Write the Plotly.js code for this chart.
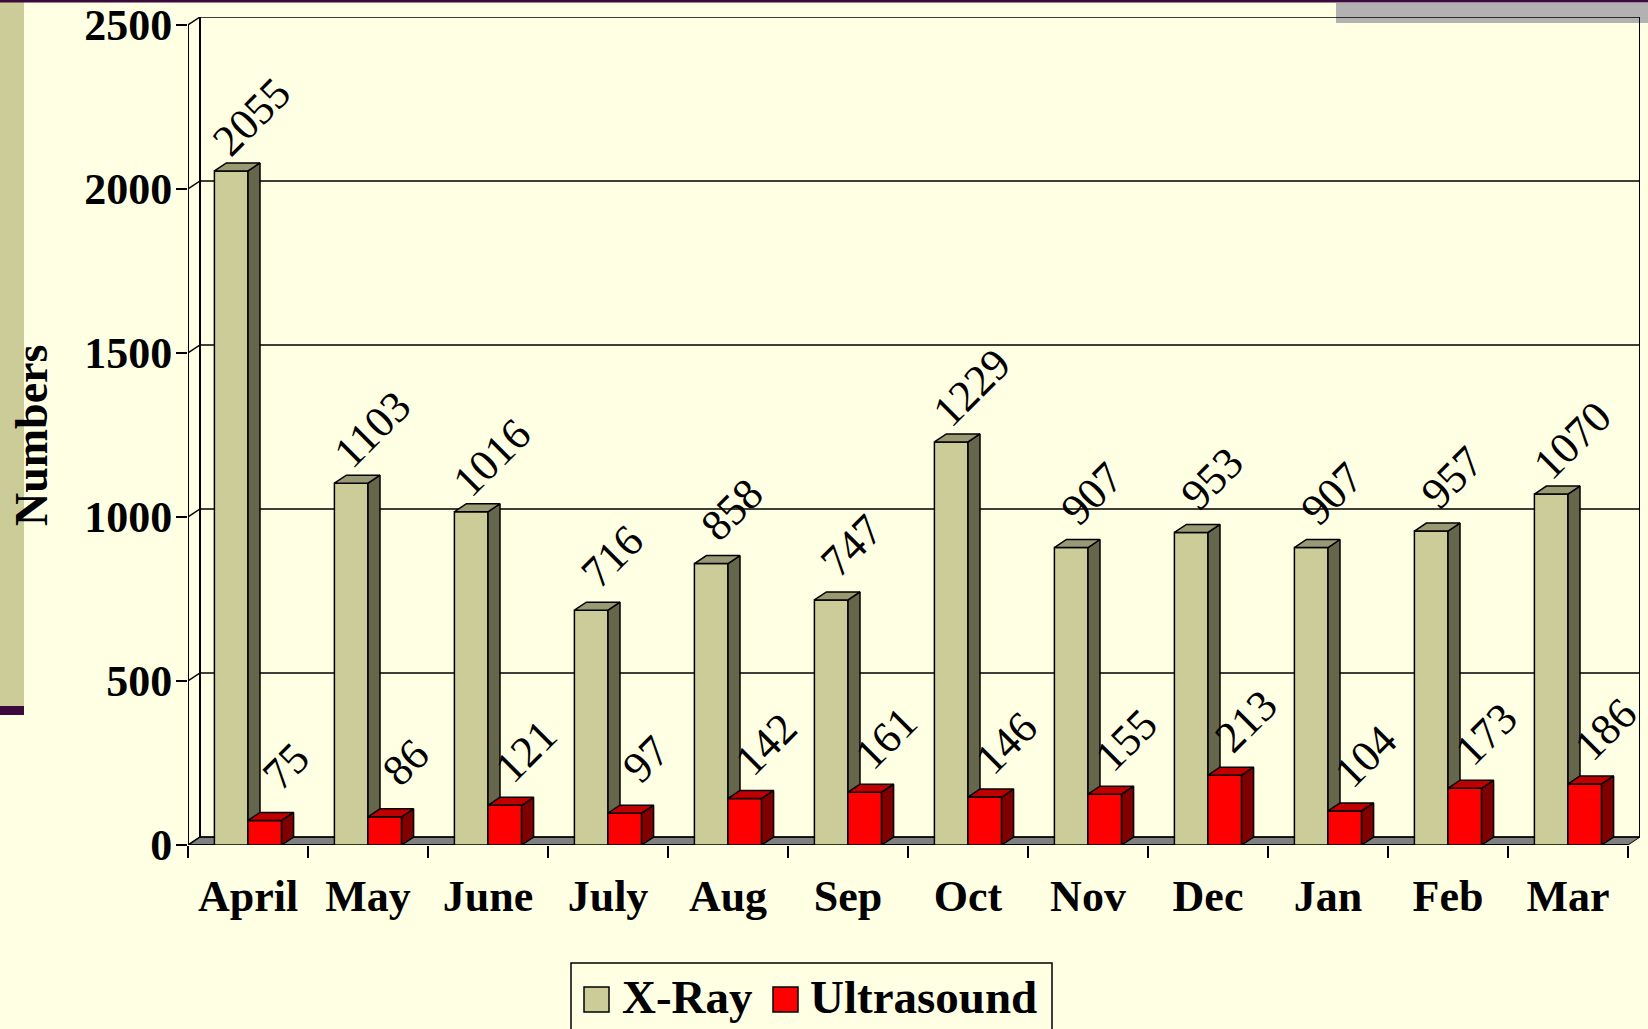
<!DOCTYPE html>
<html><head><meta charset="utf-8">
<script src="https://cdn.plot.ly/plotly-3.0.1.min.js"></script>
<style>html,body{margin:0;padding:0;background:#FFFFE4;}#chart{width:1648px;height:1029px;}</style>
</head><body><div id="chart"></div>
<script>
// ---- data ----
const months = ['April','May','June','July','Aug','Sep','Oct','Nov','Dec','Jan','Feb','Mar'];
const xray = [2055,1103,1016,716,858,747,1229,907,953,907,957,1070];
const ultrasound = [75,86,121,97,142,161,146,155,213,104,173,186];
const seriesNames = ['X-Ray','Ultrasound'];
const yTicks = [0,500,1000,1500,2000,2500];
const yTitle = 'Numbers';

// ---- geometry / style ----
const W=1648, H=1029, L=188, R=8, T=17, B=184;
const PW=W-L-R, PH=H-T-B;
const DX=0.1, DY=24.4;           // 3D depth in axis units
const BW=0.28;                    // bar width
const XMIN=-0.5, XMAX=months.length-0.5+DX, YTOP=yTicks[yTicks.length-1], YMAX=YTOP+DY;
const px = X => (X-L)/PW;
const py = Y => (H-B-Y)/PH;
const FONT='Liberation Serif';
const BG='#FFFFE4';

const series = [
  {vals: xray, off: -BW, front:'#CCCC99', side:'#66664C', top:'#999973'},
  {vals: ultrasound, off: 0, front:'#FF0000', side:'#800000', top:'#C00000'}
];

const traces = [];
const lineTrace = (x,y,w) => ({type:'scatter',mode:'lines',x,y,line:{color:'#000',width:w},hoverinfo:'skip',showlegend:false,cliponaxis:false});

// floor
traces.push({type:'scatter',mode:'lines',x:[XMIN,XMAX-DX,XMAX,XMIN+DX,XMIN],y:[0,0,DY,DY,0],fill:'toself',fillcolor:'#808080',line:{color:'#000',width:1},hoverinfo:'skip',showlegend:false,cliponaxis:false});
// back wall gridlines (with left-wall diagonal)
{
  const gx=[], gy=[];
  yTicks.forEach(g=>{ gx.push(XMIN,XMIN+DX,XMAX,null); gy.push(g,g+DY,g+DY,null); });
  traces.push(lineTrace(gx,gy,1.5));
}
// walls edges
traces.push(lineTrace([XMIN,XMIN],[0,YTOP],2));
traces.push(lineTrace([XMIN+DX,XMIN+DX],[DY,YMAX],2));
traces.push(lineTrace([XMAX,XMAX],[DY,YMAX],2));
traces.push(lineTrace([XMIN,XMAX-DX],[0,0],2));

// 3D bars
series.forEach((s,si)=>{
  const fx=[],fy=[],sx=[],sy=[],tx=[],ty=[];
  s.vals.forEach((v,i)=>{
    const x0=i+s.off, x1=x0+BW;
    fx.push(x0,x1,x1,x0,x0,null); fy.push(0,0,v,v,0,null);
    sx.push(x1,x1+DX,x1+DX,x1,x1,null); sy.push(0,DY,v+DY,v,0,null);
    tx.push(x0,x1,x1+DX,x0+DX,x0,null); ty.push(v,v,v+DY,v+DY,v,null);
  });
  const mk=(x,y,c)=>({type:'scatter',mode:'lines',x,y,fill:'toself',fillcolor:c,line:{color:'#000',width:1.5},hoverinfo:'skip',showlegend:false,cliponaxis:false,name:seriesNames[si]});
  traces.push(mk(fx,fy,s.front), mk(sx,sy,s.side), mk(tx,ty,s.top));
});

// data labels
const annotations=[];
series.forEach(s=>{
  s.vals.forEach((v,i)=>{
    annotations.push({x:i+s.off+BW/2, y:v+DY, xref:'x', yref:'y', text:String(v), showarrow:false,
      textangle:-45, xanchor:'center', yanchor:'middle', xshift:21, yshift:46,
      font:{family:FONT,size:44,color:'#000'}});
  });
});
// y title
annotations.push({xref:'paper',yref:'paper',x:px(31),y:py(436),text:yTitle,textangle:-90,showarrow:false,
  xanchor:'center',yanchor:'middle',font:{family:FONT,size:46,weight:'bold',color:'#000'}});

// legend (drawn)
const shapes=[
  {type:'rect',xref:'paper',yref:'paper',x0:px(0),x1:px(24),y0:py(0),y1:py(706),fillcolor:'#CCCC99',line:{width:0},layer:'below'},
  {type:'rect',xref:'paper',yref:'paper',x0:px(0),x1:px(24),y0:py(706),y1:py(715),fillcolor:'#3C0A3C',line:{width:0},layer:'below'},
  {type:'rect',xref:'paper',yref:'paper',x0:px(0),x1:px(W),y0:py(0),y1:py(2.5),fillcolor:'#3C0A3C',line:{width:0},layer:'below'},
  {type:'rect',xref:'paper',yref:'paper',x0:px(1336),x1:px(W),y0:py(3),y1:py(23),fillcolor:'#B2B2B2',line:{width:0},layer:'below'},
  {type:'rect',xref:'paper',yref:'paper',x0:px(571),x1:px(1052),y0:py(963),y1:py(1045),fillcolor:'rgba(0,0,0,0)',line:{color:'#000',width:1.5}},
];
const legendItems=[{sx:584,tx:620},{sx:773,tx:808}];
legendItems.forEach((it,k)=>{
  shapes.push({type:'rect',xref:'paper',yref:'paper',x0:px(it.sx),x1:px(it.sx+25),y0:py(987),y1:py(1012),fillcolor:series[k].front,line:{color:'#000',width:1.5}});
  annotations.push({xref:'paper',yref:'paper',x:px(it.tx),y:py(997),text:seriesNames[k],showarrow:false,xanchor:'left',yanchor:'middle',
    font:{family:FONT,size:47,weight:'bold',color:'#000'}});
});

const tickFont={family:FONT,size:44,weight:'bold',color:'#000'};
const layout={
  width:W,height:H,margin:{l:L,r:R,t:T,b:B,pad:0},
  paper_bgcolor:BG, plot_bgcolor:'rgba(0,0,0,0)', showlegend:false,
  xaxis:{range:[XMIN,XMAX],tickvals:months.map((m,i)=>i),ticktext:months,ticks:'outside',ticklen:12,tickcolor:'rgba(0,0,0,0)',
    minor:{ticks:'outside',tick0:-0.5,dtick:1,ticklen:12,tickwidth:1.5,tickcolor:'#000',showgrid:false},
    showgrid:false,zeroline:false,showline:false,tickfont:tickFont,fixedrange:true},
  yaxis:{range:[0,YMAX],tickvals:yTicks,ticks:'outside',ticklen:11,tickwidth:1.5,tickcolor:'#000',
    showgrid:false,zeroline:false,showline:false,tickfont:tickFont,fixedrange:true,ticklabelstandoff:-5},
  shapes, annotations, hovermode:false
};
Plotly.newPlot('chart',traces,layout,{displayModeBar:false,staticPlot:true});
</script></body></html>
